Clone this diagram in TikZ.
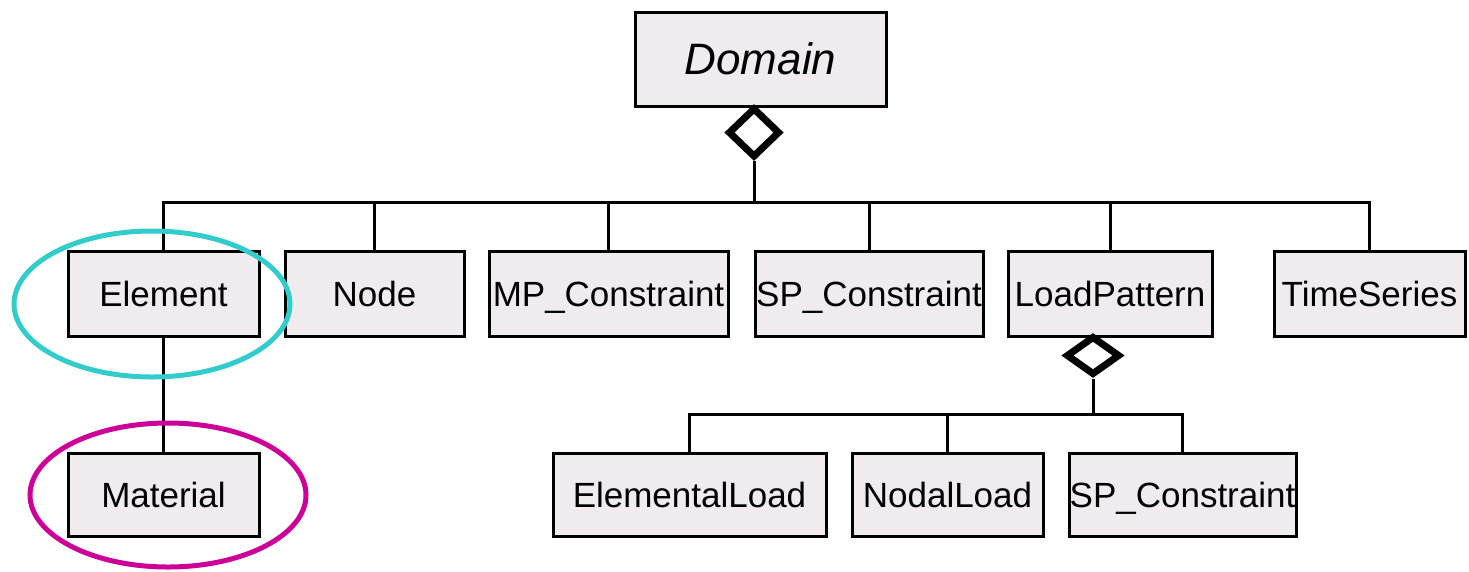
\documentclass[tikz,border=0pt]{standalone}
\usepackage{fontspec}
\setmainfont{Liberation Sans}
\usetikzlibrary{shapes.geometric}
\definecolor{classfill}{RGB}{239,235,239}
\definecolor{ringcyan}{RGB}{51,204,204}
\definecolor{ringmagenta}{RGB}{204,0,153}
\tikzset{
  classbox/.style={draw=black, line width=3pt, fill=classfill, inner sep=0pt,
    minimum height=85pt, text height=25pt, text depth=0pt,
    font=\fontsize{35}{40}\selectfont},
  aggmark/.style={diamond, draw=black, line width=7pt, fill=white, inner sep=0pt},
  link/.style={draw=black, line width=3pt},
  ring/.style={line width=5pt}
}
\begin{document}
\begin{tikzpicture}[x=1pt, y=-1pt]
  \useasboundingbox (0,0) rectangle (1469,571);

  % top-level class
  \node[classbox, minimum width=251pt, minimum height=94pt, text height=31pt,
        font=\fontsize{44}{50}\selectfont\itshape] (Domain) at (760.5,59) {Domain};

  % classes aggregated by Domain
  \node[classbox, minimum width=191pt] (Element)  at (163.5,294) {Element};
  \node[classbox, minimum width=179pt] (Node)     at (374.5,294) {Node};
  \node[classbox, minimum width=239pt] (MPC)      at (608.5,294) {MP\_Constraint};
  \node[classbox, minimum width=228pt] (SPC)      at (869,294)   {SP\_Constraint};
  \node[classbox, minimum width=204pt] (LoadPat)  at (1110,294)  {LoadPattern};
  \node[classbox, minimum width=191pt] (TimeSer)  at (1369.5,294) {TimeSeries};

  % second level
  \node[classbox, minimum width=191pt, minimum height=83pt] (Material) at (163.5,494.5) {Material};
  \node[classbox, minimum width=273pt, minimum height=83pt] (ElLoad)   at (689.5,494.5) {ElementalLoad};
  \node[classbox, minimum width=191pt, minimum height=83pt] (NodLoad)  at (947.5,494.5) {NodalLoad};
  \node[classbox, minimum width=227pt, minimum height=83pt] (SPC2)     at (1182.5,494.5) {SP\_Constraint};

  % aggregation diamonds
  \node[aggmark, minimum width=52pt, minimum height=50pt] (dAgg)  at (754,132.5) {};
  \node[aggmark, minimum width=54pt, minimum height=39pt] (lpAgg) at (1093,355.5) {};

  % bus lines
  \coordinate (busD)  at (754,202);
  \coordinate (busLP) at (1093,414);

  % Domain aggregation tree
  \draw[link] (dAgg.south) -- (busD);
  \draw[link] (Element.north) |- (busD) -| (TimeSer.north);
  \draw[link] (Node.north)    -- (Node.north    |- busD);
  \draw[link] (MPC.north)     -- (MPC.north     |- busD);
  \draw[link] (SPC.north)     -- (SPC.north     |- busD);
  \draw[link] (LoadPat.north) -- (LoadPat.north |- busD);

  % LoadPattern aggregation tree
  \draw[link] (lpAgg.south) -- (busLP);
  \draw[link] (ElLoad.north) |- (busLP) -| (SPC2.north);
  \draw[link] (NodLoad.north) -- (NodLoad.north |- busLP);

  % Element -- Material association
  \draw[link] (Element.south) -- (Material.north);

  % highlight rings
  \draw[ring, ringcyan]    (152,304)   ellipse [x radius=138, y radius=73];
  \draw[ring, ringmagenta] (168,495)   ellipse [x radius=138, y radius=72];
\end{tikzpicture}
\end{document}
